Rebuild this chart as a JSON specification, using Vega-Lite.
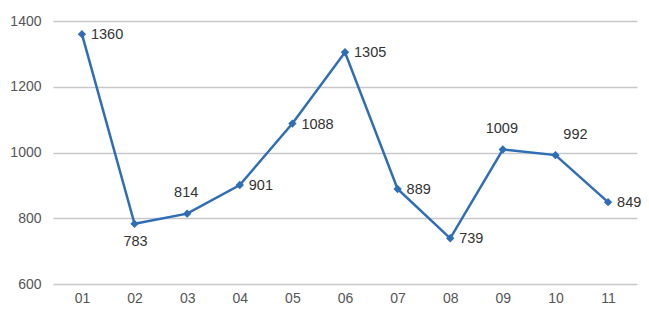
{
  "$schema": "https://vega.github.io/schema/vega-lite/v6.json",
  "autosize": "none",
  "width": 584,
  "height": 263,
  "padding": {"left": 53, "top": 21, "right": 12, "bottom": 25},
  "background": "white",
  "config": {
    "view": {"stroke": null},
    "font": "Liberation Sans",
    "axis": {"labelFont": "Liberation Sans", "labelFontSize": 14, "labelColor": "#555555", "domain": false, "ticks": false, "title": null, "gridColor": "#c8c8c8", "gridWidth": 1.3}
  },
  "data": {"values": [
    {"month": "01", "value": 1360, "pos": "right"},
    {"month": "02", "value": 783, "pos": "below"},
    {"month": "03", "value": 814, "pos": "above"},
    {"month": "04", "value": 901, "pos": "right"},
    {"month": "05", "value": 1088, "pos": "right"},
    {"month": "06", "value": 1305, "pos": "right"},
    {"month": "07", "value": 889, "pos": "right"},
    {"month": "08", "value": 739, "pos": "right"},
    {"month": "09", "value": 1009, "pos": "above"},
    {"month": "10", "value": 992, "pos": "aboveright"},
    {"month": "11", "value": 849, "pos": "right"}
  ]},
  "encoding": {
    "x": {"field": "month", "type": "ordinal", "scale": {"type": "point", "padding": 0.55}, "axis": {"labelAngle": 0, "labelPadding": 7, "grid": false}},
    "y": {"field": "value", "type": "quantitative", "scale": {"domain": [600, 1400], "nice": false}, "axis": {"values": [600, 800, 1000, 1200, 1400], "format": "d", "labelPadding": 12, "grid": true}}
  },
  "layer": [
    {"mark": {"type": "line", "color": "#2F6DB5", "strokeWidth": 2.5}},
    {"mark": {"type": "point", "shape": "diamond", "filled": true, "color": "#2F6DB5", "size": 70, "opacity": 1}},
    {"transform": [{"filter": "datum.pos == 'right'"}], "mark": {"type": "text", "align": "left", "baseline": "middle", "dx": 9, "dy": 1, "fontSize": 14.5, "color": "#333333"}, "encoding": {"text": {"field": "value"}}},
    {"transform": [{"filter": "datum.pos == 'below'"}], "mark": {"type": "text", "align": "center", "baseline": "middle", "dy": 18, "dx": 1, "fontSize": 14.5, "color": "#333333"}, "encoding": {"text": {"field": "value"}}},
    {"transform": [{"filter": "datum.pos == 'above'"}], "mark": {"type": "text", "align": "center", "baseline": "middle", "dy": -21, "dx": -1, "fontSize": 14.5, "color": "#333333"}, "encoding": {"text": {"field": "value"}}},
    {"transform": [{"filter": "datum.pos == 'aboveright'"}], "mark": {"type": "text", "align": "center", "baseline": "middle", "dy": -20, "dx": 20, "fontSize": 14.5, "color": "#333333"}, "encoding": {"text": {"field": "value"}}}
  ]
}
